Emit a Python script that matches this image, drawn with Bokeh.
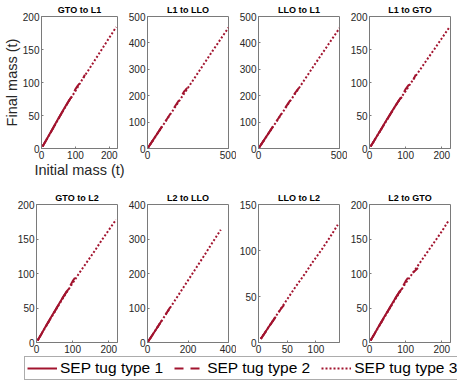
from bokeh.plotting import figure
from bokeh.layouts import row, column
from bokeh.models import FixedTicker, Legend, LegendItem, Range1d
from bokeh.embed import file_html
from bokeh.resources import INLINE

RED = "#A2142F"
FONT = "Liberation Sans"
AX = "#7a7a7a"
TXT = "#262626"

# ---------------- data (initial mass, final mass in t) ----------------
titles = ["GTO to L1", "L1 to LLO", "LLO to L1", "L1 to GTO",
          "GTO to L2", "L2 to LLO", "LLO to L2", "L2 to GTO"]
x_max = [224, 500, 500, 224, 224, 400, 141, 224]
y_max = [200, 500, 500, 200, 200, 400, 150, 200]
x_ticks = [[0, 100, 200], [0, 500], [0, 500], [0, 100, 200],
           [0, 100, 200], [0, 200, 400], [0, 50, 100], [0, 100, 200]]
y_ticks = [[0, 50, 100, 150, 200], [0, 100, 200, 300, 400, 500],
           [0, 100, 200, 300, 400, 500], [0, 50, 100, 150, 200],
           [0, 50, 100, 150, 200], [0, 100, 200, 300, 400],
           [0, 50, 100, 150], [0, 50, 100, 150, 200]]
series_labels = ["SEP tug type 1", "SEP tug type 2", "SEP tug type 3"]

# GTO to L1
gto_l1_x1 = [3, 12, 24, 36, 48, 60, 72, 84, 90]
gto_l1_y1 = [3, 11, 22, 33, 44, 54.5, 65, 75, 79]
gto_l1_x2 = [3, 15, 30, 45, 60, 75, 90, 100, 104, 108, 112, 116, 128]
gto_l1_y2 = [3, 13.5, 27, 40.5, 54, 67.5, 80, 90, 93, 96, 98, 99, 112]
gto_l1_x3 = [3, 20, 40, 60, 80, 100, 120, 140, 160, 180, 200, 220]
gto_l1_y3 = [3, 18, 36, 54, 71.5, 87, 104.5, 120, 136, 152, 168, 184]
# L1 to LLO
l1_llo_x1 = [2, 15, 30, 45, 60, 75, 90]
l1_llo_y1 = [2, 14, 28, 42, 56, 70, 84]
l1_llo_x2 = [2, 30, 60, 90, 120, 150, 175, 200, 215, 225, 235, 245]
l1_llo_y2 = [2, 28, 56, 84, 112, 140, 165, 188, 205, 215, 222, 230]
l1_llo_x3 = [2, 50, 100, 150, 200, 250, 300, 350, 400, 450, 500]
l1_llo_y3 = [2, 46, 92, 138, 184, 230, 276, 322, 368, 413, 458]
# LLO to L1
llo_l1_x1 = [2, 15, 30, 45, 60, 75, 90]
llo_l1_y1 = [2, 14, 28, 42, 56, 70, 84]
llo_l1_x2 = [2, 30, 60, 90, 120, 150, 180, 200, 215, 230, 240, 250]
llo_l1_y2 = [2, 28, 56, 84, 112, 140, 168, 186, 200, 214, 222, 230]
llo_l1_x3 = [2, 50, 100, 150, 200, 250, 300, 350, 400, 450, 500]
llo_l1_y3 = [2, 46, 92, 138, 184, 229, 275, 321, 366, 411, 456]
# L1 to GTO
l1_gto_x1 = [3, 12, 24, 36, 48, 60, 72, 84, 90]
l1_gto_y1 = [3, 11, 22, 33, 44, 54.5, 65, 75, 78]
l1_gto_x2 = [3, 15, 30, 45, 60, 75, 90, 100, 104, 108, 112, 116, 128]
l1_gto_y2 = [3, 13.5, 27, 40.5, 54, 67.5, 80, 90, 93, 96, 97, 98, 112]
l1_gto_x3 = [3, 20, 40, 60, 80, 100, 120, 140, 160, 180, 200, 220]
l1_gto_y3 = [3, 18, 36, 54, 71.5, 87, 104, 119.5, 135.5, 151, 167, 183]
# GTO to L2
gto_l2_x1 = [3, 12, 24, 36, 48, 60, 72, 84, 90]
gto_l2_y1 = [3, 11, 22, 33, 43.5, 54, 64.5, 74.5, 78]
gto_l2_x2 = [3, 15, 30, 45, 60, 75, 90, 100, 104, 108, 112, 116]
gto_l2_y2 = [3, 13.5, 27, 40, 53.5, 67, 79, 89, 92, 95, 97, 98]
gto_l2_x3 = [3, 20, 40, 60, 80, 100, 120, 140, 160, 180, 200, 220]
gto_l2_y3 = [3, 18, 35.5, 53, 70, 86, 102, 117, 132, 148, 163, 178]
# L2 to LLO
l2_llo_x1 = [3, 15, 30, 45, 60]
l2_llo_y1 = [3, 13.5, 27, 40.5, 54]
l2_llo_x2 = [3, 25, 50, 75, 100, 112]
l2_llo_y2 = [3, 22.5, 45, 68, 91, 102]
l2_llo_x3 = [3, 40, 80, 120, 160, 200, 240, 280, 320, 362]
l2_llo_y3 = [3, 36, 72, 108, 144, 180, 216, 252, 289, 327]
# LLO to L2
llo_l2_x1 = [4, 10, 20, 30]
llo_l2_y1 = [4, 9.5, 19, 28]
llo_l2_x2 = [4, 15, 30, 40, 45]
llo_l2_y2 = [4, 14, 28, 37.5, 41]
llo_l2_x3 = [4, 20, 35, 50, 65, 80, 95, 110, 125, 138]
llo_l2_y3 = [4, 19, 33, 47, 61, 74, 88, 101, 115, 128]
# L2 to GTO
l2_gto_x1 = [3, 12, 24, 36, 48, 60, 72, 84, 90]
l2_gto_y1 = [3, 11, 22, 33, 43.5, 54, 64.5, 74.5, 78]
l2_gto_x2 = [3, 15, 30, 45, 60, 75, 90, 100, 104, 108, 112, 134]
l2_gto_y2 = [3, 13.5, 27, 40, 53.5, 67, 79, 89, 92, 95, 97, 108]
l2_gto_x3 = [3, 20, 40, 60, 80, 100, 120, 140, 160, 180, 200, 218]
l2_gto_y3 = [3, 18, 35.5, 53, 70, 86, 101, 116, 131, 146, 161, 176]

panel_data = [
    [(gto_l1_x1, gto_l1_y1), (gto_l1_x2, gto_l1_y2), (gto_l1_x3, gto_l1_y3)],
    [(l1_llo_x1, l1_llo_y1), (l1_llo_x2, l1_llo_y2), (l1_llo_x3, l1_llo_y3)],
    [(llo_l1_x1, llo_l1_y1), (llo_l1_x2, llo_l1_y2), (llo_l1_x3, llo_l1_y3)],
    [(l1_gto_x1, l1_gto_y1), (l1_gto_x2, l1_gto_y2), (l1_gto_x3, l1_gto_y3)],
    [(gto_l2_x1, gto_l2_y1), (gto_l2_x2, gto_l2_y2), (gto_l2_x3, gto_l2_y3)],
    [(l2_llo_x1, l2_llo_y1), (l2_llo_x2, l2_llo_y2), (l2_llo_x3, l2_llo_y3)],
    [(llo_l2_x1, llo_l2_y1), (llo_l2_x2, llo_l2_y2), (llo_l2_x3, llo_l2_y3)],
    [(l2_gto_x1, l2_gto_y1), (l2_gto_x2, l2_gto_y2), (l2_gto_x3, l2_gto_y3)],
]

DASHES = ["solid", "9 7", "2 2"]
WIDTHS = [2, 2, 2]


def make_panel(i):
    r, c = divmod(i, 4)
    left = 36 if c == 0 else 22
    width = left + 81 + 8
    top = 12 if r == 0 else 24
    bottom = 31 if r == 0 else 14
    fh = 137 if r == 0 else 138
    p = figure(width=width, height=top + fh + bottom,
               x_range=Range1d(0, x_max[i]), y_range=Range1d(0, y_max[i]),
               output_backend="svg", toolbar_location=None,
               min_border_left=left, min_border_right=8,
               min_border_top=top, min_border_bottom=bottom,
               background_fill_color="white", border_fill_color="white")
    p.grid.visible = False
    p.outline_line_color = AX
    p.outline_line_width = 1
    p.title.text = titles[i]
    p.title.align = "center"
    p.title.text_font = FONT
    p.title.text_font_size = "9px"
    p.title.text_font_style = "bold"
    p.title.text_color = "black"
    p.title.standoff = 4
    p.title.offset = 0
    p.xaxis.ticker = FixedTicker(ticks=x_ticks[i])
    p.yaxis.ticker = FixedTicker(ticks=y_ticks[i])
    for ax in (p.xaxis, p.yaxis):
        ax.axis_line_color = AX
        ax.major_tick_line_color = AX
        ax.major_tick_in = 2
        ax.major_tick_out = 0
        ax.minor_tick_line_color = None
        ax.major_label_standoff = 2
        ax.major_label_text_font = FONT
        ax.major_label_text_font_size = "10px"
        ax.major_label_text_color = TXT
        ax.axis_label_text_font = FONT
        ax.axis_label_text_font_size = "14.5px"
        ax.axis_label_text_font_style = "normal"
        ax.axis_label_text_color = TXT
        ax.axis_label_standoff = 0
    if i == 0:
        p.xaxis.axis_label = "Initial mass (t)"
        p.yaxis.axis_label = "Final mass (t)"
    for k, (xs, ys) in enumerate(panel_data[i]):
        p.line(xs, ys, line_color=RED, line_width=WIDTHS[k], line_dash=DASHES[k])
    return p


panels = [make_panel(i) for i in range(8)]

# legend strip (proxy renderers hold a single point, so they draw nothing)
lg = figure(width=457, height=26, x_range=Range1d(0, 1), y_range=Range1d(0, 1),
            output_backend="svg", toolbar_location=None, min_border=0,
            x_axis_location=None, y_axis_location=None,
            background_fill_color="white", border_fill_color="white")
lg.grid.visible = False
lg.outline_line_color = None
items = []
for k in range(3):
    rr = lg.line([5], [5], line_color=RED, line_width=WIDTHS[k], line_dash=DASHES[k])
    items.append(LegendItem(label=series_labels[k], renderers=[rr]))
legend = Legend(items=items, orientation="horizontal", location=(24, 2),
                glyph_width=30, glyph_height=18, label_height=18,
                label_standoff=3, spacing=11, padding=2, margin=0,
                border_line_color="#595959", border_line_width=1,
                background_fill_color="white", background_fill_alpha=1,
                label_text_font=FONT, label_text_font_size="15.5px",
                label_text_color="black")
lg.add_layout(legend)

layout = column(row(*panels[:4]), row(*panels[4:]), lg)

open("out.html", "w").write(file_html(layout, INLINE))
